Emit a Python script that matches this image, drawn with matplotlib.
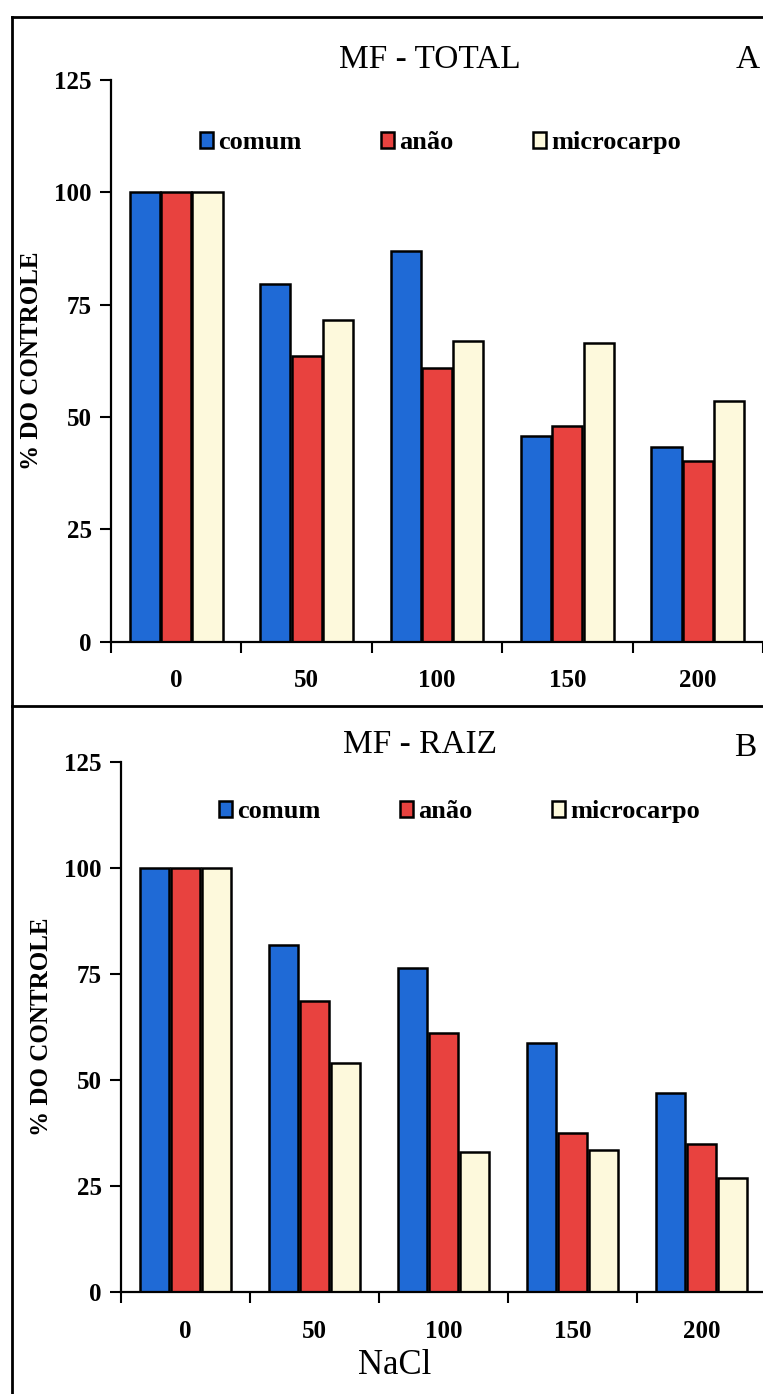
import matplotlib
matplotlib.use("Agg")
import matplotlib.pyplot as plt
import numpy as np
from matplotlib.lines import Line2D

categories = ["0", "50", "100", "150", "200"]
series_names = ["comum", "anão", "microcarpo"]
total_comum = [100, 79.6, 87.0, 45.7, 43.4]
total_anao = [100, 63.5, 61.0, 48.1, 40.3]
total_micro = [100, 71.7, 66.9, 66.4, 53.5]
raiz_comum = [100, 81.8, 76.3, 58.7, 46.9]
raiz_anao = [100, 68.7, 61.1, 37.6, 34.8]
raiz_micro = [100, 53.9, 33.0, 33.4, 26.9]
yticks = [0, 25, 50, 75, 100, 125]

colors = ["#1f6ad6", "#e8423f", "#fdf9dc"]

plt.rcParams['font.family'] = ['Liberation Serif', 'DejaVu Serif']

W, H = 763, 1394
fig = plt.figure(figsize=(W / 100, H / 100), dpi=100)
fig.patch.set_facecolor("white")


def fx(x):
    return x / W


def fy(y):
    return 1 - y / H


def panel(rect_px, data, title, letter, title_xy, letter_xy, leg_anchor, xlabel=None):
    x0, x1, ytop, ybot = rect_px
    ax = fig.add_axes([fx(x0), fy(ybot), fx(x1) - fx(x0), (ybot - ytop) / H])
    n = len(categories)
    centers = np.arange(n) + 0.5
    bw = 0.24
    for i, (vals, name) in enumerate(zip(data, series_names)):
        ax.bar(centers + (i - 1) * bw, vals, width=bw * 0.96, color=colors[i],
               edgecolor="black", linewidth=1.8, label=name, zorder=2)
    ax.set_xlim(0, n)
    ax.set_ylim(0, 125)
    ax.set_yticks(yticks)
    ax.set_yticklabels([str(t) for t in yticks], fontsize=18, fontweight="bold")
    ax.set_xticks(np.arange(n + 1))
    ax.set_xticklabels([])
    ax.set_xticks(centers, minor=True)
    ax.set_xticklabels(categories, minor=True, fontsize=18, fontweight="bold")
    ax.tick_params(axis="x", which="minor", length=0, pad=20)
    ax.tick_params(axis="x", which="major", length=8, width=1.5, direction="out")
    ax.tick_params(axis="y", length=8, width=1.5, direction="out", pad=6)
    for s in ["top", "right"]:
        ax.spines[s].set_visible(False)
    for s in ["left", "bottom"]:
        ax.spines[s].set_linewidth(1.6)
    ax.set_ylabel("% DO CONTROLE", fontsize=18, fontweight="bold", labelpad=8)
    ax.legend(ncol=3, loc="center", bbox_to_anchor=leg_anchor, frameon=False,
              prop={"size": 19, "weight": "bold"}, handlelength=0.5,
              handleheight=0.6, handletextpad=0.2, columnspacing=3.0)
    fig.text(fx(title_xy[0]), fy(title_xy[1]), title, fontsize=24, ha="center", va="center")
    fig.text(fx(letter_xy[0]), fy(letter_xy[1]), letter, fontsize=24, ha="center", va="center")
    if xlabel:
        fig.text(fx(395), fy(1365), xlabel, fontsize=25, ha="center", va="center")
    return ax


panel((111, 763, 80, 641.7), [total_comum, total_anao, total_micro], "MF - TOTAL", "A",
      (430, 60), (748, 60), (0.505, 0.888))
panel((121, 766, 762, 1292), [raiz_comum, raiz_anao, raiz_micro], "MF - RAIZ", "B",
      (420, 745), (745, 748), (0.525, 0.906), xlabel="NaCl")

# panel borders
lw = 2.0
fig.add_artist(Line2D([fx(12), fx(12)], [fy(17), fy(1394)], color="black", lw=lw))
fig.add_artist(Line2D([fx(12), fx(763)], [fy(17), fy(17)], color="black", lw=lw))
fig.add_artist(Line2D([fx(12), fx(763)], [fy(706), fy(706)], color="black", lw=lw))

fig.savefig("out.png", dpi=100, facecolor="white")
